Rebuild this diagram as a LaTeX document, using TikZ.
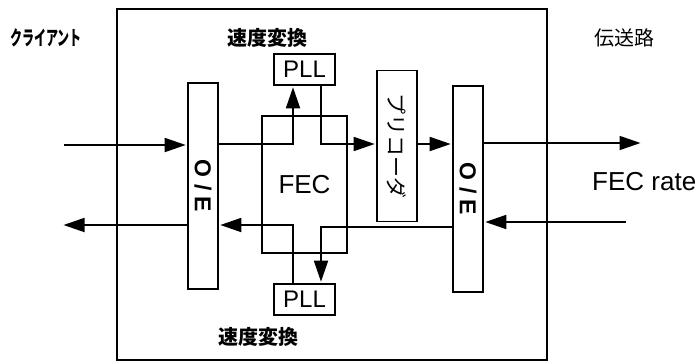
\documentclass[tikz,border=0pt]{standalone}
\usepackage{fontspec}
\setmainfont{Liberation Sans}
\newfontfamily\jp{Noto Sans CJK JP}
\usetikzlibrary{arrows.meta}
\begin{document}
\begin{tikzpicture}[x=1pt,y=-1pt,
  box/.style={draw,line width=1.6pt,inner sep=0pt,rectangle},
  arr/.style={line width=1.8pt,-{Triangle[length=21pt,width=14pt]},shorten >=1.5pt},
  jplab/.style={font=\jp\bfseries\fontsize{20}{24}\selectfont,inner sep=0pt}]
\useasboundingbox (0,0) rectangle (699,362);
% outer frame
\draw[line width=1.8pt] (117,9) rectangle (547,360);
% boxes
\node[box,minimum width=85pt,minimum height=137pt,font=\fontsize{26}{30}\selectfont] (fec) at (304.5,184.5) {FEC};
\node[box,minimum width=30pt,minimum height=206pt] (oeL) at (203,186) {\rotatebox{-90}{\fontsize{23}{27}\selectfont\bfseries O / E}};
\node[box,minimum width=30pt,minimum height=206pt] (oeR) at (468,189) {\rotatebox{-90}{\fontsize{23}{27}\selectfont\bfseries O / E}};
\node[box,minimum width=61pt,minimum height=31pt,fill=white,font=\fontsize{24}{28}\selectfont] (pllT) at (304.5,69.5) {PLL};
\node[box,minimum width=61pt,minimum height=31pt,fill=white,font=\fontsize{24}{28}\selectfont] (pllB) at (304.5,299.5) {PLL};
\node[box,minimum width=40pt,minimum height=151pt] (pre) at (397,146) {\rotatebox{-90}{\jp\fontsize{21}{25}\selectfont プリコーダ}};
% labels
\node[jplab] (client) at (46,38) {\scalebox{0.6}[1]{クライアント}};
\node[jplab] (spdT) at (267,38) {速度変換};
\node[jplab] (spdB) at (258,337) {速度変換};
\node[inner sep=0pt,font=\jp\fontsize{20}{24}\selectfont] (line) at (624,38) {伝送路};
\node[inner sep=0pt,anchor=west,font=\fontsize{26}{30}\selectfont] (rate) at (592,182) {FEC rate};
% helper coordinates
\coordinate (c1) at (293,0);
\coordinate (c2) at (321,0);
\coordinate (r0) at (0,143);
\coordinate (r1) at (0,144);
\coordinate (r2) at (0,225);
\coordinate (r3) at (0,227);
\coordinate (inL) at (64,145);
\coordinate (outL) at (62,225);
\coordinate (outR) at (642,143);
\coordinate (inR) at (626,222);
% connectors
\draw[arr] (inL) -- (inL -| oeL.west);
\draw[arr] (oeL.east |- r1) -| (c1 |- pllT.south);
\draw[arr] (c2 |- pllT.south) |- (pre.west |- r1);
\draw[arr] (pre.east |- r1) -- (oeR.west |- r1);
\draw[arr] (oeR.east |- r0) -- (outR);
\draw[arr] (inR) -- (inR -| oeR.east);
\draw[arr] (oeR.west |- r3) -| (c2 |- pllB.north);
\draw[arr] (c1 |- pllB.north) |- (oeL.east |- r2);
\draw[arr] (oeL.west |- r2) -- (outL);
\end{tikzpicture}
\end{document}
